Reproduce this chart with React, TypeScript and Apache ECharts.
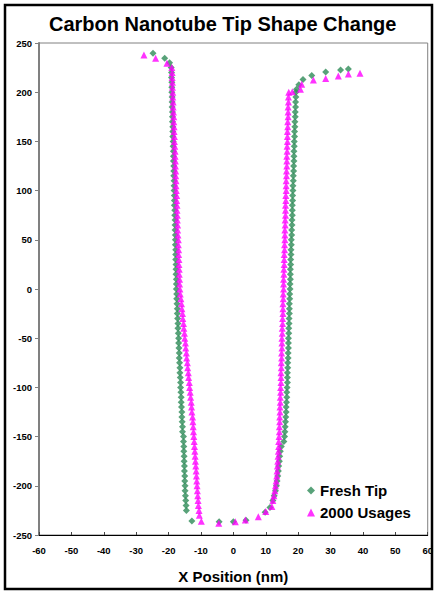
import React, { useEffect, useRef } from "react";
import * as echarts from "echarts";

const xTicks = [-60, 60];
const yTicks = [-250, 250];

const yLeft = [225,220,215,210,205,200,195,190,185,180,175,170,165,160,155,150,145,140,135,130,125,120,115,110,105,100,95,90,85,80,75,70,65,60,55,50,45,40,35,30,25,20,15,10,5,0,-5,-10,-15,-20,-25,-30,-35,-40,-45,-50,-55,-60,-65,-70,-75,-80,-85,-90,-95,-100,-105,-110,-115,-120,-125,-130,-135,-140,-145,-150,-155,-160,-165,-170,-175,-180,-185,-190,-195,-200,-205,-210,-215,-220,-225];

const freshLeftX = [-19.2,-19.1,-19.1,-19.0,-19.0,-19.0,-18.9,-18.9,-18.9,-18.8,-18.8,-18.8,-18.7,-18.7,-18.7,-18.6,-18.6,-18.5,-18.5,-18.5,-18.4,-18.4,-18.4,-18.3,-18.3,-18.3,-18.2,-18.2,-18.2,-18.1,-18.1,-18.0,-18.0,-18.0,-17.9,-17.9,-17.9,-17.8,-17.8,-17.8,-17.7,-17.7,-17.7,-17.6,-17.6,-17.6,
-17.5,-17.5,-17.4,-17.3,-17.3,-17.2,-17.1,-17.1,-17.0,-16.9,-16.9,-16.8,-16.7,-16.7,-16.6,-16.5,-16.5,-16.4,-16.3,-16.3,-16.2,-16.1,-16.1,-16.0,-15.9,-15.9,-15.8,
-15.7,-15.7,-15.4,-15.4,-15.3,-15.3,-15.2,-15.2,-15.1,-15.1,-15.0,-15.0,-14.9,-14.9,-14.8,-14.7,-14.6,-14.5];

const usedLeftX = [-19.0,-18.9,-18.9,-18.8,-18.8,-18.7,-18.7,-18.6,-18.6,-18.5,-18.4,-18.4,-18.3,-18.3,-18.2,-18.2,-18.1,-18.0,-18.0,-17.9,-17.9,-17.8,-17.8,-17.7,-17.7,-17.6,-17.5,-17.5,-17.4,-17.4,-17.3,-17.3,-17.2,-17.2,-17.1,-17.0,-17.0,-16.9,-16.9,-16.8,-16.8,-16.7,-16.7,-16.6,-16.6,-16.5,
-16.4,-16.2,-16.0,-15.9,-15.7,-15.6,-15.4,-15.3,-15.1,-15.0,-14.8,-14.7,-14.5,-14.4,-14.2,-14.1,-13.9,-13.8,-13.6,-13.5,-13.3,-13.2,-13.0,-12.9,-12.8,-12.6,-12.5,
-12.4,-12.3,-12.2,-12.1,-12.0,-11.9,-11.8,-11.7,-11.6,-11.5,-11.4,-11.3,-11.2,-11.1,-11.0,-10.9,-10.8,-10.6];

const yRight = [200,195,190,185,180,175,170,165,160,155,150,145,140,135,130,125,120,115,110,105,100,95,90,85,80,75,70,65,60,55,50,45,40,35,30,25,20,15,10,5,0,-5,-10,-15,-20,-25,-30,-35,-40,-45,-50,-55,-60,-65,-70,-75,-80,-85,-90,-95,-100,-105,-110,-115,-120,-125,-130,-135,-140,-145,-150,-155,-160,-165,-170,-175,-180,-185,-190,-195,-200,-205,-210,-215];

const freshRightX = [19.3,19.3,19.2,19.2,19.1,19.1,19.0,19.0,18.9,18.9,18.8,18.8,18.7,18.7,18.7,18.6,18.6,18.5,18.5,18.4,18.4,18.3,18.3,18.2,18.2,18.2,18.1,18.1,18.0,18.0,17.9,17.9,17.8,17.8,17.7,17.7,17.6,17.6,17.6,17.5,17.5,
17.4,17.4,17.3,17.3,17.3,17.2,17.2,17.1,17.1,17.0,17.0,17.0,16.9,16.9,16.8,16.8,16.7,16.7,16.7,16.6,
16.5,16.5,16.4,16.3,16.3,16.2,16.1,16.0,15.9,15.8,15.6,
14.8,14.5,14.3,14.2,14.0,13.9,13.7,13.5,13.3,13.0,12.6,12.2];

const usedRightX = [17.1,17.0,17.0,16.9,16.9,16.9,16.8,16.8,16.7,16.7,16.7,16.6,16.6,16.5,16.5,16.5,16.4,16.4,16.3,16.3,16.3,16.2,16.2,16.1,16.1,16.1,16.0,16.0,15.9,15.9,15.9,15.8,15.8,15.7,15.7,15.7,15.6,15.6,15.5,15.5,15.5,
15.4,15.4,15.3,15.3,15.3,15.2,15.2,15.1,15.1,15.0,15.0,15.0,14.9,14.9,14.8,14.8,14.7,14.7,14.7,14.6,
14.6,14.5,14.5,14.4,14.4,14.3,14.3,14.2,14.2,14.1,14.0,
14.0,13.9,13.8,13.7,13.6,13.5,13.4,13.2,13.0,12.8,12.5,12.2];

const freshExtra = [[-24.8,239.5],[-21.2,234.4],[-19.7,230],[19.5,203],[20.2,207.5],[21.5,213],[24.2,217],[28.5,220.5],[33.1,222.6],[35.5,223.6],[-12.8,-235.8],[-4.4,-236.5],[0,-236.5],[3.9,-235],[9.8,-227],[11.3,-222]];

const usedExtra = [[-27.6,237.8],[-24,234.4],[-20.5,229.4],[18.2,200.5],[20.7,203],[21.1,208],[24.7,212.4],[28.5,214],[32.4,216.5],[35.5,218.5],[39.1,219.2],[-10.5,-230],[-9.9,-236],[-4.5,-238],[0.6,-236.5],[3.7,-234.8],[7.7,-231.4],[10,-226],[11.9,-221]];

const seriesNames = ["Fresh Tip", "2000 Usages"];

function zip(xs: number[], ys: number[]) {
  const n = Math.min(xs.length, ys.length);
  const out: number[][] = [];
  for (let i = 0; i < n; i++) out.push([xs[i], ys[i]]);
  return out;
}

const FONT = "Liberation Sans, Arial, sans-serif";

export default function App() {
  const ref = useRef<HTMLDivElement>(null);
  useEffect(() => {
    if (!ref.current) return;
    const chart = echarts.init(ref.current, undefined, { renderer: "svg" });
    const freshData = [...zip(freshLeftX, yLeft), ...zip(freshRightX, yRight), ...freshExtra];
    const usedData = [...zip(usedLeftX, yLeft), ...zip(usedRightX, yRight), ...usedExtra];
    chart.setOption({
      animation: false,
      backgroundColor: "#ffffff",
      title: {
        text: "Carbon Nanotube Tip Shape Change",
        left: 44,
        top: 9,
        textStyle: { fontFamily: FONT, fontWeight: "bold", fontSize: 20, color: "#000" },
      },
      graphic: [
        {
          type: "rect",
          shape: { x: 5, y: 5, width: 427, height: 584 },
          style: { fill: "none", stroke: "#000", lineWidth: 2.5 },
          silent: true,
        },
      ],
      legend: {
        orient: "vertical",
        left: 302,
        top: 478,
        itemWidth: 8,
        itemHeight: 8,
        itemGap: 7,
        textStyle: { fontFamily: FONT, fontWeight: "bold", fontSize: 15, color: "#000" },
        data: seriesNames,
      },
      grid: {
        left: 39,
        right: 7,
        top: 43,
        bottom: 58,
        show: true,
        borderColor: "#808080",
        borderWidth: 1,
      },
      xAxis: {
        type: "value",
        min: xTicks[0],
        max: xTicks[1],
        interval: 10,
        name: "X Position (nm)",
        nameLocation: "middle",
        nameGap: 34,
        nameTextStyle: { fontFamily: FONT, fontWeight: "bold", fontSize: 15, color: "#000" },
        axisLine: { show: true, onZero: false, lineStyle: { color: "#000", width: 1 } },
        axisTick: { show: true, inside: true, length: 3, lineStyle: { color: "#444" } },
        axisLabel: { fontFamily: FONT, fontWeight: "bold", fontSize: 9.5, color: "#000", margin: 10 },
        splitLine: { show: false },
      },
      yAxis: {
        type: "value",
        min: yTicks[0],
        max: yTicks[1],
        interval: 50,
        axisLine: { show: true, onZero: false, lineStyle: { color: "#808080", width: 2 } },
        axisTick: { show: true, inside: false, length: 4, lineStyle: { color: "#808080" } },
        axisLabel: { fontFamily: FONT, fontWeight: "bold", fontSize: 9.5, color: "#000", margin: 7 },
        splitLine: { show: false },
      },
      series: [
        {
          name: seriesNames[0],
          type: "scatter",
          symbol: "diamond",
          symbolSize: 7,
          itemStyle: { color: "#2E8B57" },
          data: freshData,
        },
        {
          name: seriesNames[1],
          type: "scatter",
          symbol: "triangle",
          symbolSize: 7,
          itemStyle: { color: "#FF00FF" },
          data: usedData,
        },
      ],
    });
    return () => chart.dispose();
  }, []);
  return (
    <div
      ref={ref}
      style={{ position: "absolute", left: 0, top: 0, width: 436, height: 593, background: "#fff" }}
    />
  );
}
